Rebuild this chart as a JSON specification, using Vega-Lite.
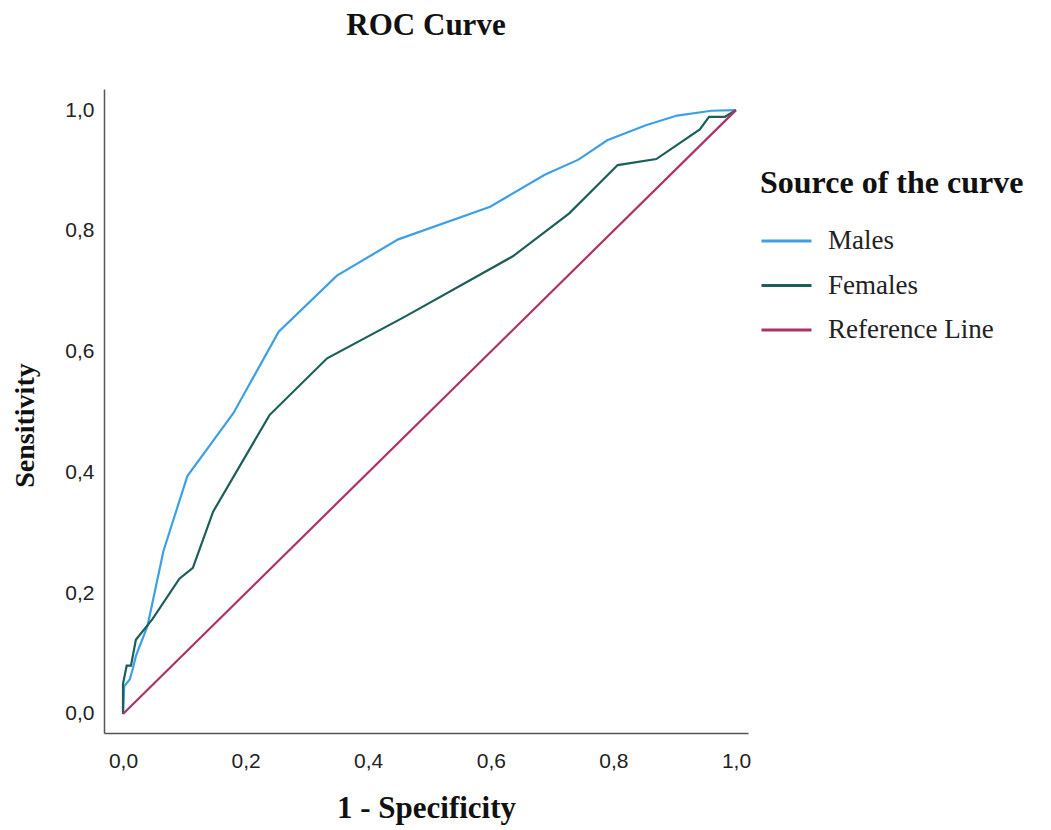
{
  "$schema": "https://vega.github.io/schema/vega-lite/v6.json",
  "autosize": {"type": "none"},
  "padding": {"left": 104, "top": 89, "right": 303, "bottom": 97},
  "width": 644,
  "height": 644,
  "background": "white",
  "title": {"text": "ROC Curve", "font": "Liberation Serif", "fontSize": 31, "fontWeight": "bold", "color": "#111", "offset": 47, "anchor": "middle"},
  "data": {"values": [
    {"curve": "Males", "order": 0, "fpr": 0.0, "tpr": 0.0},
    {"curve": "Males", "order": 1, "fpr": 0.002, "tpr": 0.046},
    {"curve": "Males", "order": 2, "fpr": 0.011, "tpr": 0.057},
    {"curve": "Males", "order": 3, "fpr": 0.016, "tpr": 0.075},
    {"curve": "Males", "order": 4, "fpr": 0.021, "tpr": 0.096},
    {"curve": "Males", "order": 5, "fpr": 0.040, "tpr": 0.146},
    {"curve": "Males", "order": 6, "fpr": 0.066, "tpr": 0.270},
    {"curve": "Males", "order": 7, "fpr": 0.105, "tpr": 0.394},
    {"curve": "Males", "order": 8, "fpr": 0.180, "tpr": 0.498},
    {"curve": "Males", "order": 9, "fpr": 0.254, "tpr": 0.633},
    {"curve": "Males", "order": 10, "fpr": 0.349, "tpr": 0.726},
    {"curve": "Males", "order": 11, "fpr": 0.449, "tpr": 0.786},
    {"curve": "Males", "order": 12, "fpr": 0.599, "tpr": 0.840},
    {"curve": "Males", "order": 13, "fpr": 0.688, "tpr": 0.893},
    {"curve": "Males", "order": 14, "fpr": 0.743, "tpr": 0.918},
    {"curve": "Males", "order": 15, "fpr": 0.790, "tpr": 0.950},
    {"curve": "Males", "order": 16, "fpr": 0.853, "tpr": 0.975},
    {"curve": "Males", "order": 17, "fpr": 0.904, "tpr": 0.991},
    {"curve": "Males", "order": 18, "fpr": 0.960, "tpr": 0.999},
    {"curve": "Males", "order": 19, "fpr": 1.0, "tpr": 1.0},
    {"curve": "Females", "order": 0, "fpr": 0.0, "tpr": 0.0},
    {"curve": "Females", "order": 1, "fpr": 0.0, "tpr": 0.050},
    {"curve": "Females", "order": 2, "fpr": 0.006, "tpr": 0.080},
    {"curve": "Females", "order": 3, "fpr": 0.013, "tpr": 0.080},
    {"curve": "Females", "order": 4, "fpr": 0.021, "tpr": 0.123},
    {"curve": "Females", "order": 5, "fpr": 0.048, "tpr": 0.157},
    {"curve": "Females", "order": 6, "fpr": 0.092, "tpr": 0.224},
    {"curve": "Females", "order": 7, "fpr": 0.114, "tpr": 0.242},
    {"curve": "Females", "order": 8, "fpr": 0.147, "tpr": 0.335},
    {"curve": "Females", "order": 9, "fpr": 0.239, "tpr": 0.495},
    {"curve": "Females", "order": 10, "fpr": 0.333, "tpr": 0.589},
    {"curve": "Females", "order": 11, "fpr": 0.460, "tpr": 0.658},
    {"curve": "Females", "order": 12, "fpr": 0.636, "tpr": 0.758},
    {"curve": "Females", "order": 13, "fpr": 0.728, "tpr": 0.829},
    {"curve": "Females", "order": 14, "fpr": 0.807, "tpr": 0.909},
    {"curve": "Females", "order": 15, "fpr": 0.870, "tpr": 0.919},
    {"curve": "Females", "order": 16, "fpr": 0.941, "tpr": 0.968},
    {"curve": "Females", "order": 17, "fpr": 0.956, "tpr": 0.989},
    {"curve": "Females", "order": 18, "fpr": 0.982, "tpr": 0.989},
    {"curve": "Females", "order": 19, "fpr": 1.0, "tpr": 1.0},
    {"curve": "Reference Line", "order": 0, "fpr": 0.0, "tpr": 0.0},
    {"curve": "Reference Line", "order": 1, "fpr": 1.0, "tpr": 1.0}
  ]},
  "mark": {"type": "line", "strokeWidth": 2.2, "interpolate": "linear"},
  "encoding": {
    "x": {"field": "fpr", "type": "quantitative",
      "scale": {"domain": [-0.031, 1.0196], "nice": false, "zero": false},
      "axis": {"title": "1 - Specificity", "values": [0, 0.2, 0.4, 0.6, 0.8, 1.0],
        "labelExpr": "replace(format(datum.value, '.1f'), '.', ',')",
        "grid": false, "ticks": false, "domainColor": "#555", "domainWidth": 1.5,
        "labelFont": "Liberation Sans", "labelFontSize": 21, "labelColor": "#222", "labelPadding": 17,
        "titleFont": "Liberation Serif", "titleFontSize": 31, "titleFontWeight": "bold", "titleColor": "#111", "titlePadding": 22}},
    "y": {"field": "tpr", "type": "quantitative",
      "scale": {"domain": [-0.0315, 1.035], "nice": false, "zero": false},
      "axis": {"title": "Sensitivity", "values": [0, 0.2, 0.4, 0.6, 0.8, 1.0],
        "labelExpr": "replace(format(datum.value, '.1f'), '.', ',')",
        "grid": false, "ticks": false, "domainColor": "#555", "domainWidth": 1.5,
        "labelFont": "Liberation Sans", "labelFontSize": 21, "labelColor": "#222", "labelPadding": 10,
        "titleFont": "Liberation Serif", "titleFontSize": 28, "titleFontWeight": "bold", "titleColor": "#111",
        "titleX": -71, "titleY": 336, "titleBaseline": "alphabetic", "titleAngle": -90}},
    "color": {"field": "curve", "type": "nominal",
      "scale": {"domain": ["Males", "Females", "Reference Line"], "range": ["#3ea0e2", "#1b5f58", "#ad3268"]},
      "legend": {"title": "Source of the curve", "orient": "none", "legendX": 656, "legendY": 79, "padding": 0,
        "titleFont": "Liberation Serif", "titleFontSize": 32, "titleFontWeight": "bold", "titleColor": "#111", "titlePadding": 26, "titleLimit": 500,
        "labelFont": "Liberation Serif", "labelFontSize": 27, "labelColor": "#222", "labelOffset": 15, "labelLimit": 400,
        "symbolType": "stroke", "symbolSize": 2500, "symbolStrokeWidth": 3, "clipHeight": 30, "rowPadding": 14.5}},
    "order": {"field": "order", "type": "quantitative"}
  },
  "config": {"view": {"stroke": null}}
}
